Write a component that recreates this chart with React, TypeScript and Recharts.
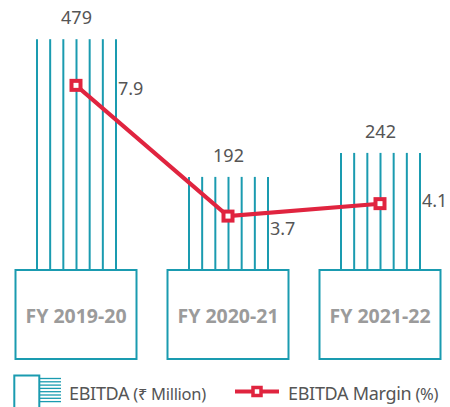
import React from "react";
import { Bar, ComposedChart, LabelList, Legend, Line, XAxis, YAxis } from "recharts";

const CATEGORIES = ["FY 2019-20", "FY 2020-21", "FY 2021-22"];
const EBITDA = [479, 192, 242];
const EBITDA_MARGIN = [7.9, 3.7, 4.1];

// vertical nudges for the margin labels, matching the reference placement
const MARGIN_LABEL_DY = [4, 13, -3];

const TEAL = "#1a9bb0";
const RED = "#e0243f";
const TEXT = "#555555";
const FONT = "'Noto Sans', sans-serif";

const rows = CATEGORIES.map((name, i) => ({
  name,
  ebitda: EBITDA[i],
  margin: EBITDA_MARGIN[i],
}));

/** Bar drawn as seven vertical strokes instead of a filled rect. */
function HatchBar(props: any) {
  const { x, y, width, height } = props;
  const n = 7;
  const lines = [];
  for (let i = 0; i < n; i++) {
    const lx = x + 1 + (i * (width - 2)) / (n - 1);
    lines.push(<line key={i} x1={lx} x2={lx} y1={y} y2={y + height} stroke={TEAL} strokeWidth={2} />);
  }
  return <g>{lines}</g>;
}

function SquareDot(props: any) {
  const { cx, cy, index } = props;
  if (cx == null || cy == null) return null;
  return (
    <rect key={index} x={cx - 4.5} y={cy - 4.5} width={9} height={9} fill="#fff" stroke={RED} strokeWidth={4} />
  );
}

function CategoryBox(props: any) {
  const { x, y, payload } = props;
  return (
    <g>
      <rect x={x - 60.5} y={y + 1} width={121} height={89} fill="#fff" stroke={TEAL} strokeWidth={2} />
      <text
        x={x}
        y={y + 54}
        textAnchor="middle"
        fontSize={19.5}
        fontWeight={700}
        fill="#9b9b9b"
        fontFamily={FONT}
      >
        {payload.value}
      </text>
    </g>
  );
}

function MarginLabel(props: any) {
  const { x, y, value, index } = props;
  return (
    <text x={x + 42} y={y + MARGIN_LABEL_DY[index] + 6} fontSize={18} fill={TEXT} fontFamily={FONT}>
      {value}
    </text>
  );
}

function LegendContent() {
  const hatch = [];
  for (let i = 0; i < 8; i++) {
    const ly = 18.5 + i * 3.3;
    hatch.push(<line key={i} x1={40} x2={61} y1={ly} y2={ly} stroke={TEAL} strokeWidth={1.3} />);
  }
  return (
    <svg width={450} height={47} style={{ display: "block" }}>
      <rect x={14.3} y={15.5} width={25} height={40} fill="none" stroke={TEAL} strokeWidth={2} />
      {hatch}
      <text x={69} y={40} fontSize={18} fill={TEXT} fontFamily={FONT} letterSpacing={-0.3}>
        EBITDA
        <tspan fontSize={16.5}> (₹ Million)</tspan>
      </text>
      <line x1={235} x2={279} y1={31.5} y2={31.5} stroke={RED} strokeWidth={4} />
      <rect x={253} y={27.5} width={8} height={8} fill="#fff" stroke={RED} strokeWidth={3.5} />
      <text x={288} y={40} fontSize={18} fill={TEXT} fontFamily={FONT} letterSpacing={-0.3}>
        EBITDA Margin
        <tspan fontSize={16.5}> (%)</tspan>
      </text>
    </svg>
  );
}

export default function App() {
  return (
    <div
      style={{
        position: "absolute",
        left: 0,
        top: 0,
        width: 450,
        height: 407,
        overflow: "hidden",
        background: "#fff",
        fontFamily: FONT,
      }}
    >
      <ComposedChart width={458} height={407} data={rows} margin={{ top: 20, right: 2, bottom: 0, left: 0 }}>
        <XAxis
          dataKey="name"
          height={91}
          axisLine={false}
          tickLine={false}
          tickSize={0}
          tickMargin={0}
          interval={0}
          tick={<CategoryBox />}
        />
        <YAxis yAxisId="left" hide domain={[0, 519]} />
        <YAxis yAxisId="right" orientation="right" hide domain={[2, 10]} />
        <Legend
          verticalAlign="bottom"
          content={<LegendContent />}
          wrapperStyle={{ left: 0, bottom: 0, width: 450, height: 47 }}
        />
        <Bar yAxisId="left" dataKey="ebitda" barSize={81} shape={<HatchBar />} isAnimationActive={false}>
          <LabelList dataKey="ebitda" position="top" offset={15} fontSize={18} fill={TEXT} fontFamily={FONT} />
        </Bar>
        <Line
          yAxisId="right"
          dataKey="margin"
          stroke={RED}
          strokeWidth={4}
          dot={<SquareDot />}
          activeDot={false}
          isAnimationActive={false}
        >
          <LabelList dataKey="margin" content={<MarginLabel />} />
        </Line>
      </ComposedChart>
    </div>
  );
}
